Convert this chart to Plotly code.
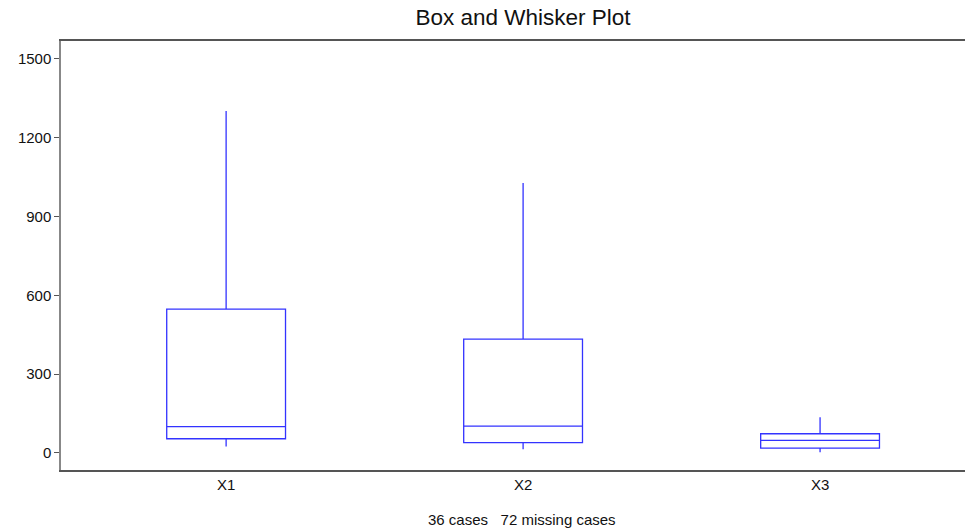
import plotly.graph_objects as go

# Five-number summaries per variable
categories = ["X1", "X2", "X3"]
lower_whisker = [24, 14, 3]
q1_values = [54, 39, 18]
medians = [100, 102, 48]
q3_values = [547, 433, 73]
upper_whisker = [1302, 1027, 136]

y_ticks = [0, 300, 600, 900, 1200, 1500]
footer_text = "36 cases   72 missing cases"

positions = list(range(len(categories)))
box_color = "rgb(51,51,255)"

fig = go.Figure()
fig.add_trace(go.Box(
    x=positions,
    lowerfence=lower_whisker,
    q1=q1_values,
    median=medians,
    q3=q3_values,
    upperfence=upper_whisker,
    width=0.4,
    whiskerwidth=0,
    line=dict(color=box_color, width=1.3),
    fillcolor="rgba(255,255,255,0)",
    boxpoints=False,
    hoverinfo="skip",
    showlegend=False,
))

font_family = "Liberation Sans, Arial, sans-serif"

fig.update_layout(
    width=965,
    height=531,
    margin=dict(l=61, r=0, t=41, b=61),
    paper_bgcolor="white",
    plot_bgcolor="white",
    font=dict(family=font_family, size=15, color="#111"),
    title=dict(
        text="Box and Whisker Plot",
        x=523 / 965, xanchor="center",
        y=0.967, yanchor="middle",
        font=dict(size=22.5, color="#111", family=font_family),
    ),
    xaxis=dict(
        range=[-0.556, 2.488],
        tickmode="array",
        tickvals=positions,
        ticktext=categories,
        ticks="",
        showgrid=False,
        zeroline=False,
        showline=True,
        mirror=True,
        linecolor="#555",
        linewidth=1.5,
        tickfont=dict(size=15),
    ),
    yaxis=dict(
        range=[-65, 1568],
        tickmode="array",
        tickvals=y_ticks,
        ticks="outside",
        ticklen=5,
        tickcolor="#555",
        showgrid=False,
        zeroline=False,
        showline=True,
        linecolor="#888",
        linewidth=1.5,
        tickfont=dict(size=15),
    ),
    annotations=[dict(
        text=footer_text,
        xref="paper", yref="paper",
        x=(522 - 61) / 904, y=-0.115,
        xanchor="center", yanchor="middle",
        showarrow=False,
        font=dict(size=15, color="#111"),
    )],
)

fig.write_html("out.html")
